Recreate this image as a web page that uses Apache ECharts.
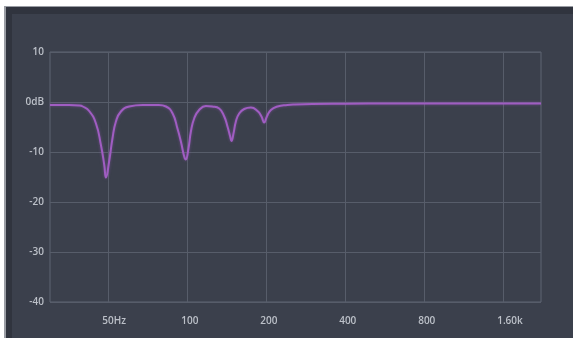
<!DOCTYPE html>
<html>
<head>
<meta charset="utf-8">
<script src="https://cdn.jsdelivr.net/npm/echarts@6/dist/echarts.min.js"></script>
<style>
  html, body { margin: 0; height: 100%; background: #ffffff; overflow: hidden; }
  .frame {
    position: absolute; left: 4px; top: 6px; right: 0; bottom: 0;
    background: #3b404c;
    border-left: 2px solid #9a9da4;
    border-top: 1px solid #9a9da4;
    box-shadow: inset 6px 7px 0 #30343e;
  }
  #chart { position: absolute; left: 0; top: 0; width: 573px; height: 338px; }
</style>
</head>
<body>
<div class="frame"></div>
<div id="chart"></div>
<script>
  // frequency response (Hz / dB)
  const freqHz = [30, 35.5, 38.8, 40, 42.3, 44.9, 46.9, 48.3, 49, 50.4,
    51.9, 53.5, 55.9, 60.1, 67.6, 72, 78, 83, 88, 91.8,
    94.6, 97.4, 98.7, 101.1, 103.3, 106.3, 111, 117.8, 124.5, 132.4,
    138.4, 142.4, 145.8, 147.5, 150.1, 153.3, 157.8, 164.9, 174.9, 185.3,
    191.9, 196.5, 201.2, 208.4, 220.9, 241, 256, 300, 400, 600,
    1000, 1600, 2230];
  const gainDb = [-0.6, -0.6, -0.7, -0.9, -1.8, -4.3, -8.6, -12.6, -15.1, -11.9,
    -7.3, -3.9, -1.9, -0.9, -0.6, -0.6, -0.6, -0.9, -2.3, -5.3,
    -7.9, -10.9, -11.5, -9.3, -5.9, -3.3, -1.6, -0.8, -0.9, -1.3,
    -2.9, -4.9, -6.9, -7.8, -6.3, -3.9, -2.3, -1.4, -1.1, -1.8,
    -2.9, -4.1, -2.9, -1.6, -0.9, -0.6, -0.5, -0.4, -0.35, -0.3,
    -0.3, -0.3, -0.3];
  const freqTicks = [50, 100, 200, 400, 800, 1600];
  const freqTickLabels = ['50Hz', '100', '200', '400', '800', '1.60k'];

  const mChart = echarts.init(document.getElementById('chart'), null, { renderer: 'canvas' });

  const gridLine = '#575d6a';
  const labelColor = '#bcc0c8';

  const option = {
    animation: false,
    grid: {
      left: 50, top: 52, right: 32, bottom: 36,
      show: true,
      borderColor: '#5e6472',
      borderWidth: 1
    },
    xAxis: {
      type: 'log',
      logBase: 2,
      min: 30,
      max: 2230,
      axisLine: { show: false },
      axisTick: { show: false, customValues: freqTicks },
      splitLine: { show: true, lineStyle: { color: gridLine, width: 1 } },
      axisLabel: {
        customValues: freqTicks,
        color: labelColor,
        fontSize: 10,
        fontWeight: 600,
        fontFamily: 'Open Sans',
        margin: 14,
        align: 'left',
        padding: [0, 0, 0, -6],
        formatter: function (v) {
          const i = freqTicks.indexOf(Math.round(v));
          return i >= 0 ? freqTickLabels[i] : '';
        }
      }
    },
    yAxis: {
      type: 'value',
      min: -40,
      max: 10,
      interval: 10,
      axisLine: { show: false },
      axisTick: { show: false },
      splitLine: { show: true, lineStyle: { color: gridLine, width: 1 } },
      axisLabel: {
        color: labelColor,
        fontSize: 10,
        fontWeight: 600,
        fontFamily: 'Open Sans',
        margin: 6,
        formatter: function (v) { return v === 0 ? '0dB' : String(v); }
      }
    },
    series: [
      {
        type: 'line',
        showSymbol: false,
        smooth: 0.5,
        data: freqHz.map(function (f, i) { return [f, gainDb[i]]; }),
        lineStyle: {
          color: '#a05dc2',
          width: 2,
          shadowColor: 'rgba(160,90,200,0.5)',
          shadowBlur: 3
        }
      }
    ]
  };

  mChart.setOption(option);
  window.addEventListener('resize', mChart.resize);
</script>
</body>
</html>
